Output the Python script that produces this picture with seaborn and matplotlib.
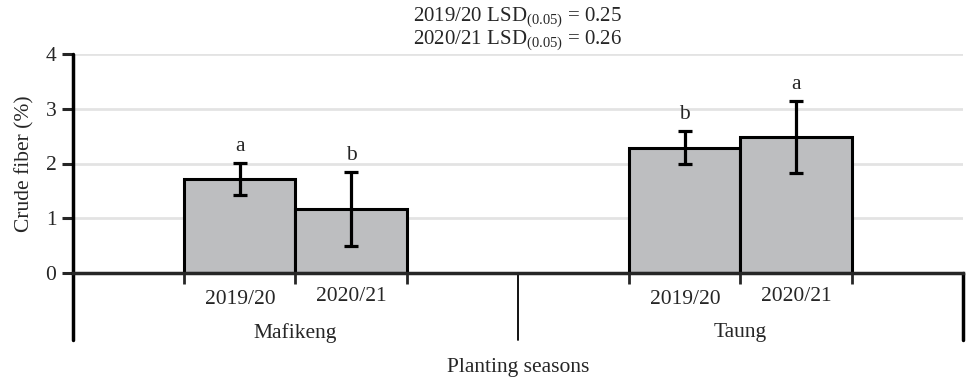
import matplotlib
matplotlib.use("Agg")
import matplotlib.pyplot as plt
import seaborn as sns
import pandas as pd

# ─── Data ────────────────────────────────────────────────────────────────────
locations = ["Mafikeng", "Mafikeng", "Taung", "Taung"]
seasons = ["2019/20", "2020/21", "2019/20", "2020/21"]
crude_fiber = [1.72, 1.17, 2.29, 2.49]
sd = [0.29, 0.67, 0.30, 0.66]
letters = ["a", "b", "b", "a"]
title_lines = ["2019/20 LSD$_{\\mathrm{(0.05)}}$ = 0.25",
               "2020/21 LSD$_{\\mathrm{(0.05)}}$ = 0.26"]

df = pd.DataFrame({"Location": locations, "Season": seasons, "CF": crude_fiber})

# ─── Style ───────────────────────────────────────────────────────────────────
sns.set_style("white")
plt.rcParams["font.family"] = ["Liberation Serif", "DejaVu Serif"]
plt.rcParams["mathtext.fontset"] = "custom"
plt.rcParams["mathtext.rm"] = "Liberation Serif"
plt.rcParams["mathtext.it"] = "Liberation Serif:italic"
FS = 15.5

fig = plt.figure(figsize=(9.7, 3.84), dpi=100)
ax = fig.add_axes([73 / 970, 1 - 273 / 384, 890 / 970, 219 / 384])

sns.barplot(data=df, x="Location", y="CF", hue="Season", order=["Mafikeng", "Taung"],
            hue_order=["2019/20", "2020/21"], palette=["#bdbec0", "#bdbec0"],
            width=0.5, edgecolor="black", linewidth=2.2, errorbar=None, legend=False, ax=ax)

# bars sorted left to right: Mafikeng 19/20, 20/21, Taung 19/20, 20/21
bars = sorted(ax.patches, key=lambda p: p.get_x())
centers = [b.get_x() + b.get_width() / 2 for b in bars]
heights = [b.get_height() for b in bars]

ax.errorbar(centers, heights, yerr=sd, fmt="none", ecolor="black",
            elinewidth=2.3, capsize=5, capthick=2.3, zorder=5)

for x, h, e, lab in zip(centers, heights, sd, letters):
    ax.annotate(lab, (x, h + e), xytext=(0, 5), textcoords="offset points",
                ha="center", va="bottom", fontsize=FS)

ax.set_xlim(-0.5, 1.5)
ax.set_ylim(0, 4)
ax.set_yticks([0, 1, 2, 3, 4])
ax.yaxis.grid(True, color="#e3e3e3", linewidth=2)
ax.set_axisbelow(True)
ax.tick_params(axis="y", direction="out", length=8, width=2.2, labelsize=FS, left=True, pad=4)

# bar edge ticks under the axis
edges = sorted({round(b.get_x(), 4) for b in bars} | {round(b.get_x() + b.get_width(), 4) for b in bars})
ax.set_xticks(edges)
ax.set_xticklabels([])
ax.tick_params(axis="x", direction="out", length=8, width=2, bottom=True)

for s in ["top", "right", "left"]:
    ax.spines[s].set_visible(False)
ax.spines["bottom"].set_linewidth(2.5)

# extended axis and group dividers
trans = ax.transAxes
ax.plot([0, 0], [-0.306, 1.0], color="black", lw=2.5, transform=trans, clip_on=False)
ax.plot([0.5, 0.5], [-0.306, 0], color="black", lw=1.3, transform=trans, clip_on=False)
ax.plot([1.0, 1.0], [-0.306, 0], color="black", lw=2.5, transform=trans, clip_on=False)

xt = ax.get_xaxis_transform()
for x, s in zip(centers, seasons):
    ax.text(x, -0.122 if s == "2019/20" else -0.108, s, transform=xt,
            ha="center", va="center", fontsize=FS)
for x, loc in zip([0, 1], ["Mafikeng", "Taung"]):
    ax.text(x, -0.272, loc, transform=xt, ha="center", va="center", fontsize=FS)

ax.set_xlabel("")
ax.text(0.5, -0.43, "Planting seasons", transform=trans, ha="center", va="center", fontsize=FS)
ax.set_ylabel("Crude fiber (%)", fontsize=FS, labelpad=8)

fig.text(518 / 970, 1 - 17 / 384, title_lines[0], ha="center", va="center", fontsize=15)
fig.text(518 / 970, 1 - 40 / 384, title_lines[1], ha="center", va="center", fontsize=15)

fig.savefig("out.png", dpi=100)
